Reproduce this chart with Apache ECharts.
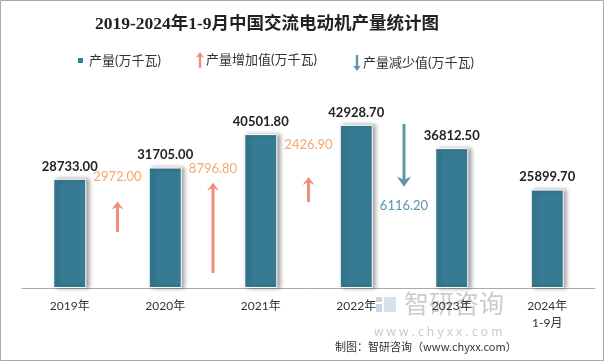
<!DOCTYPE html>
<html><head><meta charset="utf-8">
<script src="https://cdn.jsdelivr.net/npm/echarts@6/dist/echarts.min.js"></script>
<style>html,body{margin:0;padding:0;background:#fff}#c{width:604px;height:361px}</style>
</head><body><div id="c"></div>
<script>
// ---- data ----
const categories = ['2019年', '2020年', '2021年', '2022年', '2023年', '2024年\n1-9月'];
const production = [28733.00, 31705.00, 40501.80, 42928.70, 36812.50, 25899.70];
// change between category i and i+1
const increaseGap = [0, 1, 2];
const increaseVal = [2972.00, 8796.80, 2426.90];
const decreaseGap = [3];
const decreaseVal = [6116.20];
// arrow placement on the hidden secondary axis (layout, not data)
const increaseBase = [5450, 1460, 8370];
const increaseLabelAt = [10800, 11590, 13920];
const decreaseTop = [15970];
const decreaseLabelAt = [7980];

const BAR = '#367A93', UP = '#F08E78', UPTXT = '#F5A76C', DOWN = '#5D96AC', DOWNTXT = '#5B93AE';
const FONT = 'Lato, "Noto Sans CJK SC", sans-serif';

function arrowItem(params, api, up, color, txtColor) {
  const gap = api.value(0), base = api.value(1), len = api.value(2), lab = api.value(3);
  const band = api.size([1, 0])[0];
  const p0 = api.coord([gap, base]);
  const p1 = api.coord([gap, up ? base + len : base - len]);
  const x = p0[0] + band / 2;
  const yS = p0[1], yE = p1[1];
  const dir = up ? 1 : -1;
  const hw = up ? 6 : 7, hh = up ? 8 : 10;
  const lp = api.coord([gap, lab]);
  return {
    type: 'group',
    children: [
      { type: 'line', shape: { x1: x, y1: yS, x2: x, y2: yE + dir * 3 }, style: { stroke: color, lineWidth: 3 } },
      { type: 'polygon', shape: { points: [[x, yE], [x - hw, yE + dir * hh], [x, yE + dir * (hh - 3)], [x + hw, yE + dir * hh]] }, style: { fill: color } },
      { type: 'text', style: { text: api.value(2).toFixed(2), x: x, y: lp[1], align: 'center', verticalAlign: 'middle', fill: txtColor, font: '13px ' + FONT } }
    ]
  };
}

const upPath = 'path://M5,0 L10,7 L6.5,6 L6.5,20 L3.5,20 L3.5,6 L0,7 Z';
const downPath = 'path://M3.5,0 L6.5,0 L6.5,14 L10,13 L5,20 L0,13 L3.5,14 Z';

const chart = echarts.init(document.getElementById('c'), null, { renderer: 'canvas' });
chart.setOption({
  animation: false,
  backgroundColor: '#fff',
  title: {
    text: '2019-2024年1-9月中国交流电动机产量统计图',
    left: 262, top: 11, textAlign: 'center',
    textStyle: { fontFamily: '"Liberation Serif", "Noto Sans CJK SC", serif', fontSize: 17.5, fontWeight: 'bold', color: '#222' }
  },
  legend: [
    { data: [{ name: '产量(万千瓦)', icon: 'rect' }], left: 71, top: 49, itemWidth: 7, itemHeight: 7, itemGap: 4, textStyle: { fontSize: 13, color: '#333', fontFamily: FONT } },
    { data: [{ name: '产量增加值(万千瓦)', icon: upPath, itemStyle: { color: UP } }], left: 191, top: 47, itemWidth: 8, itemHeight: 17, textStyle: { fontSize: 13, color: '#333', fontFamily: FONT, padding: [0, 0, 0, -3] } },
    { data: [{ name: '产量减少值(万千瓦)', icon: downPath, itemStyle: { color: DOWN } }], left: 348, top: 50, itemWidth: 8, itemHeight: 17, textStyle: { fontSize: 13, color: '#333', fontFamily: FONT, padding: [0, 0, 0, -3] } }
  ],
  grid: { left: 22, right: 9, top: 98, bottom: 73 },
  xAxis: {
    type: 'category', data: categories,
    axisLine: { lineStyle: { color: '#aaa' } },
    axisTick: { length: 4, lineStyle: { color: '#aaa' } },
    axisLabel: { color: '#333', fontSize: 12, fontFamily: FONT, margin: 10, lineHeight: 17 }
  },
  yAxis: [
    { type: 'value', min: 0, max: 50000, show: false, splitLine: { show: false } },
    { type: 'value', min: 0, max: 18500, show: false, splitLine: { show: false } }
  ],
  series: [
    {
      name: '产量(万千瓦)', type: 'bar', data: production, barWidth: 33,
      itemStyle: { color: BAR, borderColor: '#fff', borderWidth: 1, shadowColor: 'rgba(0,0,0,0.35)', shadowBlur: 4, shadowOffsetX: 3, shadowOffsetY: 0 },
      label: { show: true, position: 'top', distance: 6, color: '#222', fontSize: 13, fontWeight: 'bold', fontFamily: FONT, formatter: p => p.value.toFixed(2) }
    },
    {
      name: '产量增加值(万千瓦)', type: 'custom', yAxisIndex: 1, itemStyle: { color: UP },
      data: increaseGap.map((g, i) => [g, increaseBase[i], increaseVal[i], increaseLabelAt[i]]),
      renderItem: (p, api) => arrowItem(p, api, true, UP, UPTXT)
    },
    {
      name: '产量减少值(万千瓦)', type: 'custom', yAxisIndex: 1, itemStyle: { color: DOWN },
      data: decreaseGap.map((g, i) => [g, decreaseTop[i], decreaseVal[i], decreaseLabelAt[i]]),
      renderItem: (p, api) => arrowItem(p, api, false, DOWN, DOWNTXT)
    }
  ],
  graphic: [
    { type: 'rect', shape: { x: 0.5, y: 0.5, width: 603, height: 360 }, style: { fill: 'none', stroke: '#aaa', lineWidth: 1 }, silent: true },
    { type: 'rect', shape: { x: 376, y: 297, width: 6, height: 5 }, style: { fill: '#c9d8e6' }, silent: true },
    { type: 'rect', shape: { x: 376, y: 304, width: 6, height: 8 }, style: { fill: '#c9d8e6' }, silent: true },
    { type: 'rect', shape: { x: 384, y: 297, width: 12, height: 15 }, style: { fill: '#d5e2ee' }, silent: true },
    { type: 'text', style: { text: '智研咨询', x: 404, y: 303, verticalAlign: 'middle', fill: 'rgba(160,160,160,0.55)', font: '25px "Noto Sans CJK SC", sans-serif' }, silent: true },
    { type: 'text', style: { text: 'w w w . c h y x x . c o m', x: 374, y: 333, verticalAlign: 'middle', fill: 'rgba(160,160,160,0.55)', font: '12px "Noto Sans", sans-serif' }, silent: true },
    { type: 'text', style: { text: '制图：智研咨询（www.chyxx.com）', x: 335, y: 347, verticalAlign: 'middle', fill: '#333', font: '11px "Noto Sans CJK SC", sans-serif' }, silent: true }
  ]
});
</script></body></html>
